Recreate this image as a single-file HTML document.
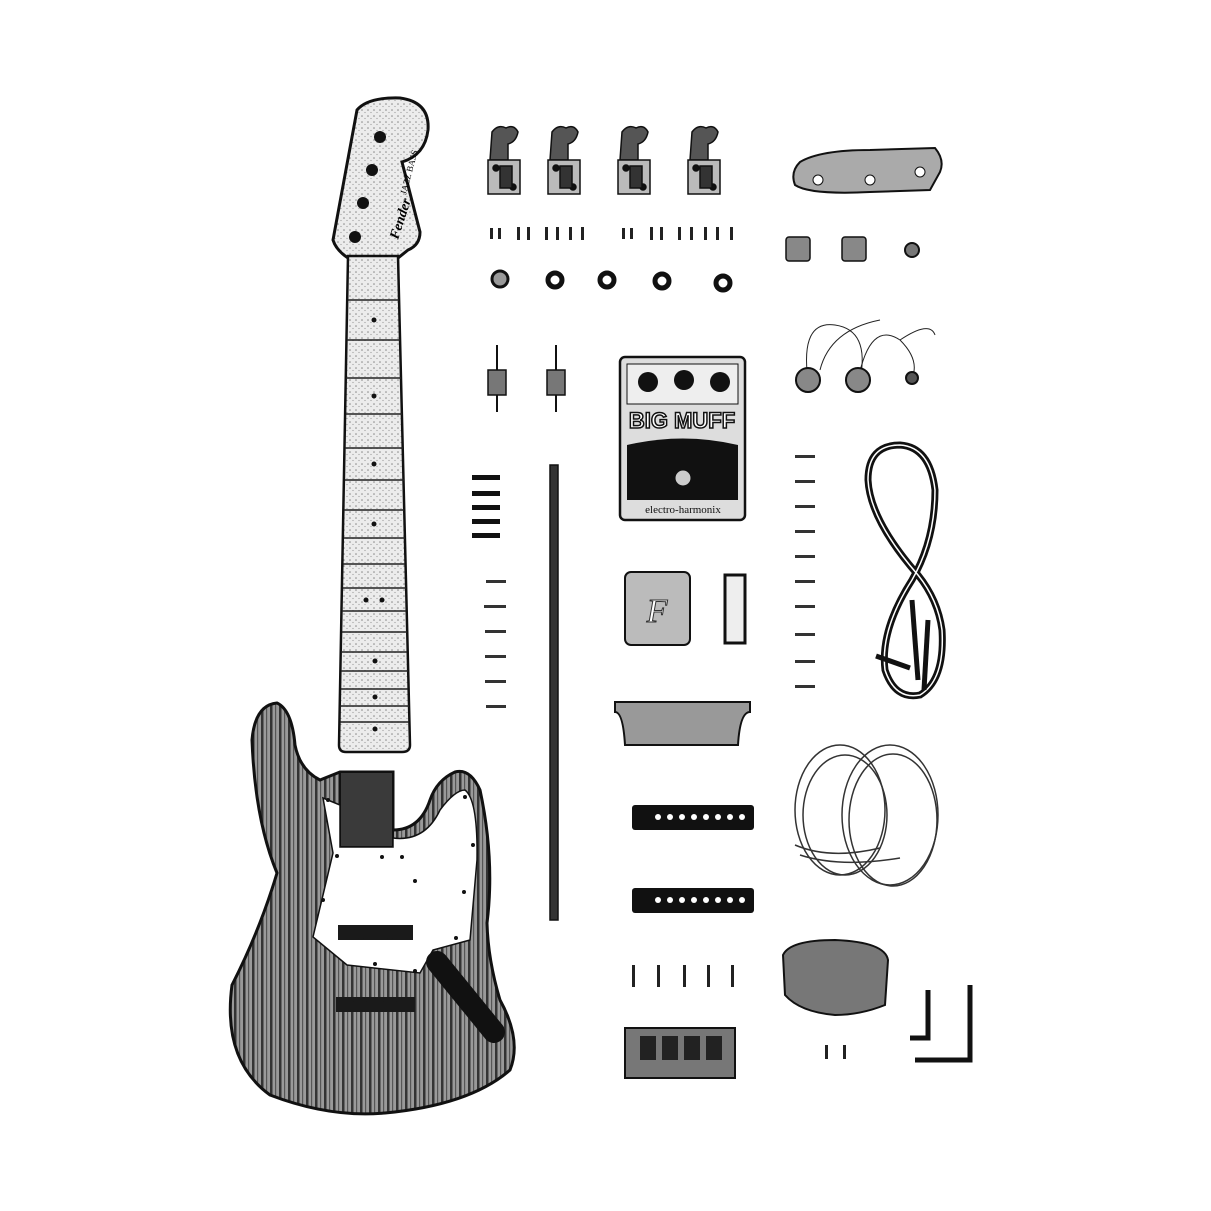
<!DOCTYPE html>
<html><head><meta charset="utf-8"><style>
html,body{margin:0;padding:0;background:#fff}
svg{display:block}
</style></head><body>
<svg width="1211" height="1211" viewBox="0 0 1211 1211" xmlns="http://www.w3.org/2000/svg" font-family="Liberation Serif, serif">
<defs>
<pattern id="wood" width="9" height="40" patternUnits="userSpaceOnUse">
<rect width="9" height="40" fill="#999"/>
<rect x="0" width="2.5" height="40" fill="#333"/>
<rect x="5" width="1.2" height="40" fill="#555"/>
</pattern>
<pattern id="fb" width="6" height="6" patternUnits="userSpaceOnUse">
<rect width="6" height="6" fill="#ececec"/><circle cx="2" cy="2" r="0.8" fill="#888"/><circle cx="5" cy="4.5" r="0.6" fill="#999"/>
</pattern>
</defs>

<!-- headstock -->
<path d="M348,258 Q336,250 333,240 L357,110 Q368,97 400,98 Q430,102 428,130 Q425,155 402,162 L420,232 Q420,245 408,250 L398,258 Z" fill="url(#fb)" stroke="#111" stroke-width="3"/>
<circle cx="380" cy="137" r="6" fill="#111"/>
<circle cx="372" cy="170" r="6" fill="#111"/>
<circle cx="363" cy="203" r="6" fill="#111"/>
<circle cx="355" cy="237" r="6" fill="#111"/>
<text x="0" y="0" font-size="14" font-style="italic" font-weight="bold" transform="translate(398,240) rotate(-72)">Fender</text>
<text x="0" y="0" font-size="9" transform="translate(406,195) rotate(-75)">JAZZ BASS</text>
<!-- neck -->
<path d="M348,256 L398,256 L410,745 Q410,752 402,752 L346,752 Q339,752 339,745 Z" fill="url(#fb)" stroke="#111" stroke-width="2.5"/>
<g stroke="#222" stroke-width="1.5">
<line x1="348" y1="300" x2="399" y2="300"/><line x1="347" y1="340" x2="400" y2="340"/><line x1="346" y1="378" x2="401" y2="378"/>
<line x1="346" y1="414" x2="402" y2="414"/><line x1="345" y1="448" x2="403" y2="448"/><line x1="345" y1="480" x2="404" y2="480"/>
<line x1="344" y1="510" x2="404" y2="510"/><line x1="344" y1="538" x2="405" y2="538"/><line x1="343" y1="564" x2="405" y2="564"/>
<line x1="343" y1="588" x2="406" y2="588"/><line x1="342" y1="611" x2="406" y2="611"/><line x1="342" y1="632" x2="407" y2="632"/>
<line x1="341" y1="652" x2="407" y2="652"/><line x1="341" y1="671" x2="408" y2="671"/><line x1="341" y1="689" x2="408" y2="689"/>
<line x1="340" y1="706" x2="409" y2="706"/><line x1="340" y1="722" x2="409" y2="722"/>
</g>
<g fill="#111"><circle cx="374" cy="320" r="2.5"/><circle cx="374" cy="396" r="2.5"/><circle cx="374" cy="464" r="2.5"/><circle cx="374" cy="524" r="2.5"/><circle cx="366" cy="600" r="2.5"/><circle cx="382" cy="600" r="2.5"/><circle cx="375" cy="661" r="2.5"/><circle cx="375" cy="697" r="2.5"/><circle cx="375" cy="729" r="2.5"/></g>

<!-- body -->
<path d="M277,703 Q255,705 252,740 Q255,820 277,873 Q260,930 232,985 Q222,1060 270,1095 Q330,1118 385,1113 Q470,1105 510,1070 Q522,1040 500,1000 Q488,960 487,923 Q495,860 480,790 Q470,768 455,772 Q437,780 430,800 Q420,830 393,830 L393,772 L340,772 L320,780 Q300,770 295,745 Q292,710 277,703 Z" fill="url(#wood)" stroke="#111" stroke-width="3"/>
<rect x="340" y="772" width="53" height="75" fill="#3a3a3a" stroke="#111" stroke-width="2"/>
<!-- pickguard -->
<path d="M323,798 L340,805 L340,847 L393,847 L393,838 Q425,842 440,810 Q455,790 465,790 Q478,800 477,860 L470,940 L433,950 L420,973 L347,965 L313,937 L333,853 Z" fill="#fff" stroke="#111" stroke-width="1.5"/>
<g fill="#111"><circle cx="328" cy="800" r="2"/><circle cx="337" cy="856" r="2"/><circle cx="323" cy="900" r="2"/><circle cx="375" cy="964" r="2"/><circle cx="415" cy="971" r="2"/><circle cx="456" cy="938" r="2"/><circle cx="464" cy="892" r="2"/><circle cx="473" cy="845" r="2"/><circle cx="465" cy="797" r="2"/><circle cx="402" cy="857" r="2"/><circle cx="415" cy="881" r="2"/><circle cx="382" cy="857" r="2"/></g>
<rect x="338" y="925" width="75" height="15" fill="#1a1a1a"/>
<circle cx="361" cy="932" r="7" fill="#1a1a1a"/><circle cx="390" cy="932" r="7" fill="#1a1a1a"/>
<rect x="336" y="997" width="79" height="15" fill="#1a1a1a"/>
<circle cx="360" cy="1004" r="7" fill="#1a1a1a"/><circle cx="390" cy="1004" r="7" fill="#1a1a1a"/>
<line x1="437" y1="962" x2="494" y2="1032" stroke="#111" stroke-width="22" stroke-linecap="round"/>

<!-- tuners -->
<g id="tun" fill="#555" stroke="#111" stroke-width="1.5">
<path d="M492,132 Q498,124 506,128 Q514,124 518,132 Q516,142 508,144 L508,160 L490,160 Z"/>
<rect x="488" y="160" width="32" height="34" fill="#bbb"/>
<circle cx="496" cy="168" r="3" fill="#111"/><circle cx="513" cy="187" r="3" fill="#111"/>
<rect x="500" y="166" width="12" height="22" fill="#333"/>
</g>
<use href="#tun" x="60"/><use href="#tun" x="130"/><use href="#tun" x="200"/>

<!-- small screws row -->
<g fill="#222">
<rect x="490" y="228" width="3" height="11"/><rect x="498" y="228" width="3" height="11"/><rect x="517" y="227" width="3" height="13"/><rect x="527" y="227" width="3" height="13"/><rect x="545" y="227" width="3" height="13"/><rect x="556" y="227" width="3" height="13"/><rect x="569" y="227" width="3" height="13"/><rect x="581" y="227" width="3" height="13"/>
<rect x="622" y="228" width="3" height="11"/><rect x="630" y="228" width="3" height="11"/><rect x="650" y="227" width="3" height="13"/><rect x="660" y="227" width="3" height="13"/><rect x="678" y="227" width="3" height="13"/><rect x="690" y="227" width="3" height="13"/><rect x="704" y="227" width="3" height="13"/><rect x="716" y="227" width="3" height="13"/><rect x="730" y="227" width="3" height="13"/>
</g>
<!-- washers -->
<g fill="none" stroke="#111">
<circle cx="500" cy="279" r="8" stroke-width="3" fill="#999"/>
<circle cx="555" cy="280" r="7" stroke-width="5"/><circle cx="607" cy="280" r="7" stroke-width="5"/>
<circle cx="662" cy="281" r="7" stroke-width="5"/><circle cx="723" cy="283" r="7" stroke-width="5"/>
</g>
<!-- string trees -->
<g stroke="#111" fill="#777">
<line x1="497" y1="345" x2="497" y2="412" stroke-width="2"/><rect x="488" y="370" width="18" height="25" stroke-width="1.5"/>
<line x1="556" y1="345" x2="556" y2="412" stroke-width="2"/><rect x="547" y="370" width="18" height="25" stroke-width="1.5"/>
</g>
<!-- wood screws -->
<g fill="#111">
<rect x="472" y="475" width="28" height="5"/><rect x="472" y="491" width="28" height="5"/><rect x="472" y="505" width="28" height="5"/><rect x="472" y="519" width="28" height="5"/><rect x="472" y="533" width="28" height="5"/>
</g>
<g fill="#333">
<rect x="486" y="580" width="20" height="3"/><rect x="484" y="605" width="22" height="3"/><rect x="485" y="630" width="21" height="3"/><rect x="485" y="655" width="21" height="3"/><rect x="485" y="680" width="21" height="3"/><rect x="486" y="705" width="20" height="3"/>
<rect x="795" y="455" width="20" height="3"/><rect x="795" y="480" width="20" height="3"/><rect x="795" y="505" width="20" height="3"/><rect x="795" y="530" width="20" height="3"/><rect x="795" y="555" width="20" height="3"/><rect x="795" y="580" width="20" height="3"/><rect x="795" y="605" width="20" height="3"/><rect x="795" y="633" width="20" height="3"/><rect x="795" y="660" width="20" height="3"/><rect x="795" y="685" width="20" height="3"/>
</g>
<!-- truss rod -->
<rect x="550" y="465" width="8" height="455" fill="#333" stroke="#111" stroke-width="1.5"/>

<!-- pedal -->
<rect x="620" y="357" width="125" height="163" rx="5" fill="#ddd" stroke="#111" stroke-width="2.5"/>
<rect x="627" y="364" width="111" height="40" fill="#eee" stroke="#111"/>
<circle cx="648" cy="382" r="10" fill="#111"/><circle cx="684" cy="380" r="10" fill="#111"/><circle cx="720" cy="382" r="10" fill="#111"/>
<text x="682" y="428" font-size="22" font-weight="bold" text-anchor="middle" font-family="Liberation Sans, sans-serif" fill="#fff" stroke="#111" stroke-width="1.5">BIG MUFF</text>
<text x="683" y="450" font-size="18" text-anchor="middle" fill="#111">π</text>
<path d="M627,445 Q683,432 738,445 L738,500 L627,500 Z" fill="#111"/>
<circle cx="683" cy="478" r="8" fill="#ccc" stroke="#111"/>
<text x="683" y="513" font-size="11" text-anchor="middle" fill="#111">electro-harmonix</text>

<!-- neck plate -->
<rect x="625" y="572" width="65" height="73" rx="6" fill="#bbb" stroke="#111" stroke-width="2"/>
<text x="657" y="622" font-size="34" font-style="italic" text-anchor="middle" fill="#fff" stroke="#333">F</text>
<rect x="725" y="575" width="20" height="68" fill="#eee" stroke="#111" stroke-width="3"/>
<!-- bridge cover -->
<path d="M615,702 L750,702 L750,712 Q740,712 738,745 L625,745 Q623,712 615,712 Z" fill="#999" stroke="#111" stroke-width="2"/>
<!-- pickups -->
<rect x="632" y="805" width="122" height="25" rx="3" fill="#111"/>
<g fill="#fff"><circle cx="658" cy="817" r="3"/><circle cx="670" cy="817" r="3"/><circle cx="682" cy="817" r="3"/><circle cx="694" cy="817" r="3"/><circle cx="706" cy="817" r="3"/><circle cx="718" cy="817" r="3"/><circle cx="730" cy="817" r="3"/><circle cx="742" cy="817" r="3"/></g>
<rect x="632" y="888" width="122" height="25" rx="3" fill="#111"/>
<g fill="#fff"><circle cx="658" cy="900" r="3"/><circle cx="670" cy="900" r="3"/><circle cx="682" cy="900" r="3"/><circle cx="694" cy="900" r="3"/><circle cx="706" cy="900" r="3"/><circle cx="718" cy="900" r="3"/><circle cx="730" cy="900" r="3"/><circle cx="742" cy="900" r="3"/></g>
<!-- screws -->
<g fill="#222"><rect x="632" y="965" width="3" height="22"/><rect x="657" y="965" width="3" height="22"/><rect x="683" y="965" width="3" height="22"/><rect x="707" y="965" width="3" height="22"/><rect x="731" y="965" width="3" height="22"/>
<rect x="825" y="1045" width="3" height="14"/><rect x="843" y="1045" width="3" height="14"/></g>
<!-- bridge -->
<rect x="625" y="1028" width="110" height="50" fill="#777" stroke="#111" stroke-width="2"/>
<g fill="#222"><rect x="640" y="1036" width="16" height="24"/><rect x="662" y="1036" width="16" height="24"/><rect x="684" y="1036" width="16" height="24"/><rect x="706" y="1036" width="16" height="24"/></g>

<!-- control plate -->
<path d="M800,162 Q820,150 870,150 L935,148 Q945,160 940,172 L930,190 L870,192 Q810,195 795,185 Q790,172 800,162 Z" fill="#aaa" stroke="#111" stroke-width="2"/>
<circle cx="818" cy="180" r="5" fill="#fff" stroke="#111"/><circle cx="870" cy="180" r="5" fill="#fff" stroke="#111"/><circle cx="920" cy="172" r="5" fill="#fff" stroke="#111"/>
<rect x="786" y="237" width="24" height="24" rx="3" fill="#888" stroke="#111" stroke-width="1.5"/>
<rect x="842" y="237" width="24" height="24" rx="3" fill="#888" stroke="#111" stroke-width="1.5"/>
<circle cx="912" cy="250" r="7" fill="#777" stroke="#111" stroke-width="2"/>
<!-- pots & wires -->
<g fill="none" stroke="#222" stroke-width="1">
<path d="M808,380 Q800,320 835,325 Q870,330 860,380"/><path d="M858,380 Q870,320 900,340 Q920,360 912,378"/>
<path d="M900,340 Q930,320 935,335"/><path d="M820,370 Q830,330 880,320"/>
</g>
<circle cx="808" cy="380" r="12" fill="#888" stroke="#111" stroke-width="2"/>
<circle cx="858" cy="380" r="12" fill="#888" stroke="#111" stroke-width="2"/>
<circle cx="912" cy="378" r="6" fill="#555" stroke="#111" stroke-width="2"/>
<!-- cable: figure-8 -->
<g fill="none" stroke="#111" stroke-width="7" stroke-linecap="round">
<path d="M918,575 Q870,520 868,480 Q868,445 900,445 Q930,447 935,490 Q935,540 912,580 Q880,630 885,670 Q895,700 920,695 Q945,680 942,630 Q938,600 918,575"/>
</g>
<g fill="none" stroke="#fff" stroke-width="1.5">
<path d="M918,575 Q870,520 868,480 Q868,445 900,445 Q930,447 935,490 Q935,540 912,580 Q880,630 885,670 Q895,700 920,695 Q945,680 942,630 Q938,600 918,575"/>
</g>
<g stroke="#111" stroke-width="5"><line x1="912" y1="600" x2="918" y2="680"/><line x1="928" y1="620" x2="924" y2="690"/><line x1="876" y1="656" x2="910" y2="668"/></g>
<!-- strings -->
<g fill="none" stroke="#333" stroke-width="1.5">
<ellipse cx="840" cy="810" rx="45" ry="65"/><ellipse cx="845" cy="815" rx="42" ry="60"/>
<ellipse cx="890" cy="815" rx="48" ry="70"/><ellipse cx="893" cy="820" rx="44" ry="66"/>
<path d="M795,845 Q830,860 880,848"/><path d="M800,855 Q840,868 900,858"/>
</g>
<!-- ashtray -->
<path d="M783,955 Q790,940 835,940 Q885,942 888,960 L885,1005 Q860,1015 835,1015 Q800,1012 785,995 Z" fill="#777" stroke="#111" stroke-width="2"/>
<!-- allen keys -->
<path d="M928,990 L928,1038 L910,1038" fill="none" stroke="#111" stroke-width="5"/>
<path d="M970,985 L970,1060 L915,1060" fill="none" stroke="#111" stroke-width="5"/>
</svg>
</body></html>
